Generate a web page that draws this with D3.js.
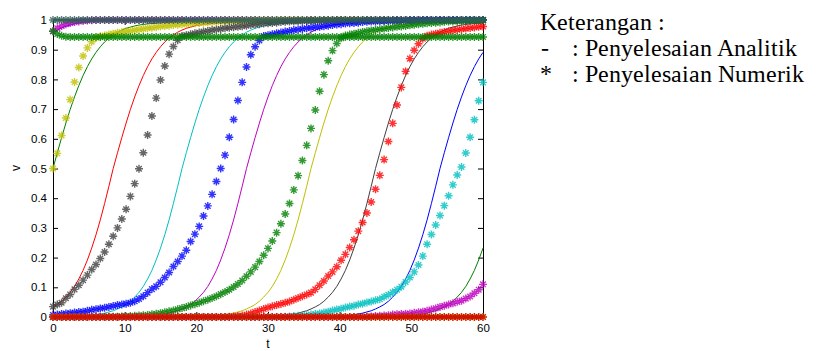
<!DOCTYPE html>
<html>
<head>
<meta charset="utf-8">
<script src="https://cdn.jsdelivr.net/npm/d3@7"></script>
<style>
  body { margin: 0; background: #ffffff; }
  svg { display: block; }
  @font-face { font-family: "NoteSerif"; src: local("Liberation Serif"), local("LiberationSerif-Regular"), local("Liberation Serif Regular"); }
</style>
</head>
<body>
<svg id="chart" width="835" height="351"></svg>
<script>
// Time grid shared by every series (step 0.6)
const tValues = [
0,0.6,1.2,1.8,2.4,3,3.6,4.2,4.8,5.4,
6,6.6,7.2,7.8,8.4,9,9.6,10.2,10.8,11.4,
12,12.6,13.2,13.8,14.4,15,15.6,16.2,16.8,17.4,
18,18.6,19.2,19.8,20.4,21,21.6,22.2,22.8,23.4,
24,24.6,25.2,25.8,26.4,27,27.6,28.2,28.8,29.4,
30,30.6,31.2,31.8,32.4,33,33.6,34.2,34.8,35.4,
36,36.6,37.2,37.8,38.4,39,39.6,40.2,40.8,41.4,
42,42.6,43.2,43.8,44.4,45,45.6,46.2,46.8,47.4,
48,48.6,49.2,49.8,50.4,51,51.6,52.2,52.8,53.4,
54,54.6,55.2,55.8,56.4,57,57.6,58.2,58.8,59.4,
60];

const xTicks = [0, 10, 20, 30, 40, 50, 60];
const yTicks = [0, 0.1, 0.2, 0.3, 0.4, 0.5, 0.6, 0.7, 0.8, 0.9, 1];
const yTickLabels = ['0','0.1','0.2','0.3','0.4','0.5','0.6','0.7','0.8','0.9','1'];

// ---- analytic solutions (solid lines) ----
const steadyHigh = [
1,1,1,1,1,1,1,1,1,1, 1,1,1,1,1,1,1,1,1,1, 1,1,1,1,1,1,1,1,1,1,
1,1,1,1,1,1,1,1,1,1, 1,1,1,1,1,1,1,1,1,1, 1,1,1,1,1,1,1,1,1,1,
1,1,1,1,1,1,1,1,1,1, 1,1,1,1,1,1,1,1,1,1, 1,1,1,1,1,1,1,1,1,1,
1,1,1,1,1,1,1,1,1,1, 1];

const steadyLow = [
0,0,0,0,0,0,0,0,0,0, 0,0,0,0,0,0,0,0,0,0, 0,0,0,0,0,0,0,0,0,0,
0,0,0,0,0,0,0,0,0,0, 0,0,0,0,0,0,0,0,0,0, 0,0,0,0,0,0,0,0,0,0,
0,0,0,0,0,0,0,0,0,0, 0,0,0,0,0,0,0,0,0,0, 0,0,0,0,0,0,0,0,0,0,
0,0,0,0,0,0,0,0,0,0, 0];

const analyticBlueTop = [
0.958,0.966,0.973,0.979,0.983,0.987,0.990,0.992,0.994,0.995,
0.996,0.997,0.998,0.998,0.999,0.999,1,1,1,1,
1,1,1,1,1,1,1,1,1,1, 1,1,1,1,1,1,1,1,1,1, 1,1,1,1,1,1,1,1,1,1,
1,1,1,1,1,1,1,1,1,1, 1,1,1,1,1,1,1,1,1,1, 1,1,1,1,1,1,1,1,1,1,
1,1,1,1,1,1,1,1,1,1, 1,1,1,1,1,1,1,1,1,1, 1];

const analyticGreen = [
0.5,0.553,0.604,0.653,0.699,0.741,0.779,0.813,0.843,0.869,
0.891,0.910,0.926,0.939,0.950,0.959,0.966,0.972,0.976,0.980,
0.983,0.985,0.987,0.988,0.989,0.990,0.991,0.992,0.993,0.994,
0.995,0.995,0.996,0.996,0.997,0.997,0.998,0.998,0.998,0.999,
0.999,0.999,0.999,1,1,1,1,1,1,1,
1,1,1,1,1,1,1,1,1,1, 1,1,1,1,1,1,1,1,1,1, 1,1,1,1,1,1,1,1,1,1,
1,1,1,1,1,1,1,1,1,1, 1,1,1,1,1,1,1,1,1,1, 1];

const analyticRed = [
0.034,0.042,0.053,0.067,0.083,0.103,0.128,0.157,0.192,0.232,
0.277,0.327,0.382,0.440,0.5,0.553,0.604,0.653,0.699,0.741,
0.779,0.813,0.843,0.869,0.891,0.910,0.926,0.939,0.950,0.959,
0.966,0.972,0.976,0.980,0.983,0.985,0.987,0.988,0.989,0.990,
0.991,0.992,0.993,0.994,0.995,0.995,0.996,0.996,0.997,0.997,
0.998,0.998,0.998,0.999,0.999,0.999,0.999,1,1,1,
1,1,1,1,1,1,1,1,1,1, 1,1,1,1,1,1,1,1,1,1, 1,1,1,1,1,1,1,1,1,1,
1,1,1,1,1,1,1,1,1,1, 1];

const analyticCyan = [
0.001,0.001,0.001,0.002,0.002,0.003,0.003,0.004,0.005,0.006,
0.008,0.010,0.013,0.017,0.021,0.027,0.034,0.042,0.053,0.067,
0.083,0.103,0.128,0.157,0.192,0.232,0.277,0.327,0.382,0.440,
0.5,0.553,0.604,0.653,0.699,0.741,0.779,0.813,0.843,0.869,
0.891,0.910,0.926,0.939,0.950,0.959,0.966,0.972,0.976,0.980,
0.983,0.985,0.987,0.988,0.989,0.990,0.991,0.992,0.993,0.994,
0.995,0.995,0.996,0.996,0.997,0.997,0.998,0.998,0.998,0.999,
0.999,0.999,0.999,1,1,1,1,1,1,1,
1,1,1,1,1,1,1,1,1,1, 1,1,1,1,1,1,1,1,1,1, 1];

const analyticMagenta = [
0,0,0,0,0,0,0,0,0,0,
0,0,0,0,0,0.001,0.001,0.001,0.002,0.002,
0.003,0.003,0.004,0.005,0.006,0.008,0.010,0.013,0.017,0.021,
0.027,0.034,0.042,0.053,0.067,0.083,0.103,0.128,0.157,0.192,
0.232,0.277,0.327,0.382,0.440,0.5,0.553,0.604,0.653,0.699,
0.741,0.779,0.813,0.843,0.869,0.891,0.910,0.926,0.939,0.950,
0.959,0.966,0.972,0.976,0.980,0.983,0.985,0.987,0.988,0.989,
0.990,0.991,0.992,0.993,0.994,0.995,0.995,0.996,0.996,0.997,
0.997,0.998,0.998,0.998,0.999,0.999,0.999,0.999,1,1,
1,1,1,1,1,1,1,1,1,1, 1];

const analyticYellow = [
0,0,0,0,0,0,0,0,0,0, 0,0,0,0,0,0,0,0,0,0, 0,0,0,0,0,0,0,0,0,0,
0.001,0.001,0.001,0.002,0.002,0.003,0.003,0.004,0.005,0.006,
0.008,0.010,0.013,0.017,0.021,0.027,0.034,0.042,0.053,0.067,
0.083,0.103,0.128,0.157,0.192,0.232,0.277,0.327,0.382,0.440,
0.5,0.553,0.604,0.653,0.699,0.741,0.779,0.813,0.843,0.869,
0.891,0.910,0.926,0.939,0.950,0.959,0.966,0.972,0.976,0.980,
0.983,0.985,0.987,0.988,0.989,0.990,0.991,0.992,0.993,0.994,
0.995,0.995,0.996,0.996,0.997,0.997,0.998,0.998,0.998,0.999,
0.999];

const analyticDark = [
0,0,0,0,0,0,0,0,0,0, 0,0,0,0,0,0,0,0,0,0, 0,0,0,0,0,0,0,0,0,0,
0,0,0,0,0,0,0,0,0,0,
0,0,0,0,0,0.001,0.001,0.001,0.002,0.002,
0.003,0.003,0.004,0.005,0.006,0.008,0.010,0.013,0.017,0.021,
0.027,0.034,0.042,0.053,0.067,0.083,0.103,0.128,0.157,0.192,
0.232,0.277,0.327,0.382,0.440,0.5,0.553,0.604,0.653,0.699,
0.741,0.779,0.813,0.843,0.869,0.891,0.910,0.926,0.939,0.950,
0.959,0.966,0.972,0.976,0.980,0.983,0.985,0.987,0.988,0.989,
0.990];

const analyticBlue = [
0,0,0,0,0,0,0,0,0,0, 0,0,0,0,0,0,0,0,0,0, 0,0,0,0,0,0,0,0,0,0,
0,0,0,0,0,0,0,0,0,0, 0,0,0,0,0,0,0,0,0,0, 0,0,0,0,0,0,0,0,0,0,
0.001,0.001,0.001,0.002,0.002,0.003,0.003,0.004,0.005,0.006,
0.008,0.010,0.013,0.017,0.021,0.027,0.034,0.042,0.053,0.067,
0.083,0.103,0.128,0.157,0.192,0.232,0.277,0.327,0.382,0.440,
0.5,0.553,0.604,0.653,0.699,0.741,0.779,0.813,0.843,0.869,
0.891];

const analyticGreenLate = [
0,0,0,0,0,0,0,0,0,0, 0,0,0,0,0,0,0,0,0,0, 0,0,0,0,0,0,0,0,0,0,
0,0,0,0,0,0,0,0,0,0, 0,0,0,0,0,0,0,0,0,0, 0,0,0,0,0,0,0,0,0,0,
0,0,0,0,0,0,0,0,0,0,
0,0,0,0,0,0.001,0.001,0.001,0.002,0.002,
0.003,0.003,0.004,0.005,0.006,0.008,0.010,0.013,0.017,0.021,
0.027,0.034,0.042,0.053,0.067,0.083,0.103,0.128,0.157,0.192,
0.232];

// ---- numeric solutions (asterisk markers) ----
const numMagentaTop = [
0.962,0.972,0.980,0.986,0.990,0.993,0.995,0.997,0.998,0.999,
1,1,1,1,1,1,1,1,1,1, 1,1,1,1,1,1,1,1,1,1, 1,1,1,1,1,1,1,1,1,1,
1,1,1,1,1,1,1,1,1,1, 1,1,1,1,1,1,1,1,1,1, 1,1,1,1,1,1,1,1,1,1,
1,1,1,1,1,1,1,1,1,1, 1,1,1,1,1,1,1,1,1,1, 1,1,1,1,1,1,1,1,1,1, 1];

const numYellow = [
0.5,0.551,0.611,0.670,0.732,0.791,0.840,0.879,0.906,0.927,
0.940,0.945,0.948,0.951,0.954,0.957,0.959,0.962,0.964,0.966,
0.968,0.970,0.972,0.974,0.976,0.978,0.980,0.981,0.983,0.984,
0.986,0.987,0.988,0.989,0.990,0.991,0.992,0.993,0.994,0.995,
0.995,0.996,0.996,0.997,0.997,0.998,0.998,0.998,0.999,0.999,
0.999,1,1,1,1,1,1,1,1,1,
1,1,1,1,1,1,1,1,1,1, 1,1,1,1,1,1,1,1,1,1, 1,1,1,1,1,1,1,1,1,1,
1,1,1,1,1,1,1,1,1,1, 1];

const numDark = [
0.035,0.042,0.048,0.063,0.076,0.093,0.107,0.124,0.141,0.160,
0.177,0.197,0.219,0.245,0.272,0.300,0.330,0.363,0.406,0.449,
0.499,0.553,0.613,0.677,0.737,0.798,0.845,0.885,0.911,0.932,
0.946,0.949,0.952,0.955,0.958,0.961,0.963,0.966,0.968,0.970,
0.972,0.974,0.976,0.977,0.979,0.981,0.983,0.985,0.986,0.988,
0.989,0.990,0.991,0.993,0.994,0.995,0.995,0.996,0.997,0.997,
0.998,0.998,0.998,0.999,0.999,0.999,1,1,1,1,
1,1,1,1,1,1,1,1,1,1, 1,1,1,1,1,1,1,1,1,1, 1,1,1,1,1,1,1,1,1,1, 1];

const numBlue = [
0.007,0.008,0.010,0.012,0.013,0.015,0.017,0.018,0.021,0.024,
0.026,0.029,0.031,0.034,0.037,0.040,0.042,0.045,0.048,0.053,
0.061,0.070,0.082,0.094,0.103,0.117,0.133,0.150,0.170,0.187,
0.205,0.225,0.254,0.279,0.305,0.340,0.374,0.413,0.456,0.500,
0.545,0.605,0.665,0.729,0.790,0.842,0.883,0.910,0.931,0.946,
0.949,0.952,0.955,0.958,0.961,0.963,0.966,0.968,0.970,0.972,
0.974,0.976,0.977,0.979,0.981,0.983,0.985,0.986,0.988,0.989,
0.990,0.991,0.993,0.994,0.995,0.995,0.996,0.997,0.997,0.998,
0.998,0.998,0.999,0.999,0.999,1,1,1,1,1,
1,1,1,1,1,1,1,1,1,1, 1];

const numGreen = [
0,0,0,0,0,0,0,0,0,0,
0,0,0,0.001,0.001,0.001,0.002,0.002,0.003,0.004,
0.005,0.006,0.007,0.009,0.011,0.013,0.016,0.019,0.022,0.026,
0.030,0.034,0.039,0.043,0.048,0.053,0.058,0.064,0.070,0.077,
0.084,0.092,0.101,0.111,0.123,0.137,0.152,0.168,0.187,0.208,
0.231,0.256,0.284,0.314,0.347,0.382,0.428,0.476,0.527,0.578,
0.635,0.697,0.760,0.816,0.863,0.897,0.921,0.939,0.948,0.951,
0.954,0.957,0.960,0.962,0.965,0.967,0.969,0.971,0.973,0.975,
0.977,0.978,0.980,0.982,0.984,0.986,0.987,0.989,0.990,0.991,
0.992,0.994,0.995,0.995,0.996,0.997,0.997,0.998,0.998,0.998,
0.999];

const numRed = [
0,0,0,0,0,0,0,0,0,0, 0,0,0,0,0,0,0,0,0,0, 0,0,0,0,0,0,0,0,0,0,
0,0,0,0,0,0,0,0,0,0,
0,0.001,0.002,0.003,0.005,0.008,0.012,0.017,0.022,0.027,
0.032,0.036,0.040,0.044,0.048,0.052,0.058,0.064,0.070,0.076,
0.082,0.093,0.107,0.121,0.138,0.152,0.169,0.191,0.211,0.234,
0.260,0.289,0.318,0.350,0.387,0.430,0.477,0.530,0.591,0.652,
0.714,0.773,0.827,0.870,0.898,0.920,0.937,0.947,0.951,0.954,
0.957,0.960,0.962,0.965,0.967,0.969,0.971,0.973,0.975,0.977,
0.978];

const numCyan = [
0,0,0,0,0,0,0,0,0,0, 0,0,0,0,0,0,0,0,0,0, 0,0,0,0,0,0,0,0,0,0,
0,0,0,0,0,0,0,0,0,0, 0,0,0,0,0,0,0,0,0,0,
0,0,0,0,0.001,0.002,0.003,0.004,0.005,0.006,
0.008,0.010,0.012,0.015,0.018,0.022,0.025,0.028,0.032,0.035,
0.038,0.042,0.045,0.049,0.052,0.056,0.060,0.068,0.075,0.083,
0.092,0.102,0.118,0.133,0.152,0.175,0.205,0.245,0.278,0.310,
0.342,0.375,0.408,0.445,0.478,0.505,0.552,0.605,0.664,0.728,
0.790];

const numMagentaLate = [
0,0,0,0,0,0,0,0,0,0, 0,0,0,0,0,0,0,0,0,0, 0,0,0,0,0,0,0,0,0,0,
0,0,0,0,0,0,0,0,0,0, 0,0,0,0,0,0,0,0,0,0, 0,0,0,0,0,0,0,0,0,0,
0,0,0,0,0,0,0,0,0,0,
0,0,0,0.001,0.002,0.003,0.004,0.005,0.006,0.008,
0.009,0.010,0.011,0.012,0.014,0.016,0.018,0.021,0.025,0.029,
0.034,0.038,0.042,0.046,0.051,0.055,0.062,0.069,0.080,0.092,
0.110];

const numGreenPlateau = [
0.962,0.953,0.947,0.944,0.943,0.943,0.943,0.943,0.943,0.943,
0.943,0.943,0.943,0.943,0.943,0.943,0.943,0.943,0.943,0.943,
0.943,0.943,0.943,0.943,0.943,0.943,0.943,0.943,0.943,0.943,
0.943,0.943,0.943,0.943,0.943,0.943,0.943,0.943,0.943,0.943,
0.943,0.943,0.943,0.943,0.943,0.943,0.943,0.943,0.943,0.943,
0.943,0.943,0.943,0.943,0.943,0.943,0.943,0.943,0.943,0.943,
0.943,0.943,0.943,0.943,0.943,0.943,0.943,0.943,0.943,0.943,
0.943,0.943,0.943,0.943,0.943,0.943,0.943,0.943,0.943,0.943,
0.943,0.943,0.943,0.943,0.943,0.943,0.943,0.943,0.943,0.943,
0.943,0.943,0.943,0.943,0.943,0.943,0.943,0.943,0.943,0.943,
0.943];

const noteLines = [
  { x: 540, y: 30, text: 'Keterangan :' },
  { x: 541, y: 56, text: '-' },
  { x: 572, y: 56, text: ': Penyelesaian Analitik' },
  { x: 540, y: 82, text: '*' },
  { x: 572, y: 82, text: ': Penyelesaian Numerik' }
];

// ---- drawing ----
const svg = d3.select('#chart');
const x = d3.scaleLinear().domain([0, 60]).range([53, 483]);
const y = d3.scaleLinear().domain([0, 1]).range([317, 20]);

// notes beside the chart (drawn first, straight onto the svg)
noteLines.forEach(d => {
  svg.append('text')
    .attr('x', d.x)
    .attr('y', d.y)
    .style('font-family', 'NoteSerif')
    .style('font-size', '24px')
    .text(d.text);
});

// axes box, ticks pointing inward
function styleAxis(g) {
  g.attr('font-family', null).attr('font-size', null);
  g.selectAll('path.domain').attr('stroke', '#000');
  g.selectAll('.tick line').attr('stroke', '#000');
  g.selectAll('.tick text')
    .attr('fill', '#000')
    .style('font-family', 'Liberation Sans')
    .style('font-size', '11.5px');
}
const axesLayer = svg.append('g');
axesLayer.append('g')
  .attr('transform', `translate(0,${y(0)})`)
  .call(d3.axisBottom(x).tickValues(xTicks).tickSizeInner(-5).tickSizeOuter(0).tickPadding(7))
  .call(styleAxis);
axesLayer.append('g')
  .attr('transform', `translate(0,${y(1)})`)
  .call(d3.axisTop(x).tickValues(xTicks).tickSizeInner(-5).tickSizeOuter(0).tickFormat(''))
  .call(styleAxis);
axesLayer.append('g')
  .attr('transform', `translate(${x(0)},0)`)
  .call(d3.axisLeft(y).tickValues(yTicks).tickFormat((d, i) => yTickLabels[i])
        .tickSizeInner(-5).tickSizeOuter(0).tickPadding(6))
  .call(styleAxis);
axesLayer.append('g')
  .attr('transform', `translate(${x(60)},0)`)
  .call(d3.axisRight(y).tickValues(yTicks).tickSizeInner(-5).tickSizeOuter(0).tickFormat(''))
  .call(styleAxis);

// axis titles
svg.append('text')
  .style('font-family', 'Liberation Sans').style('font-size', '12px')
  .attr('x', 268).attr('y', 348)
  .attr('text-anchor', 'middle')
  .text('t');
svg.append('text')
  .style('font-family', 'Liberation Sans').style('font-size', '12px')
  .attr('transform', 'translate(20,168) rotate(-90)')
  .attr('text-anchor', 'middle')
  .text('v');

// solid lines
const lineGen = d3.line()
  .x((v, i) => x(tValues[i]))
  .y(v => y(v));

const lineSeries = [
  { values: steadyLow, color: '#8a6a48', width: 3.5 },
  { values: steadyHigh, color: '#8a6a48', width: 2 },
  { values: analyticBlueTop, color: '#0000ff', width: 1 },
  { values: analyticGreen, color: '#008000', width: 1 },
  { values: analyticRed, color: '#ff0000', width: 1 },
  { values: analyticCyan, color: '#00bfbf', width: 1 },
  { values: analyticMagenta, color: '#bf00bf', width: 1 },
  { values: analyticYellow, color: '#bfbf00', width: 1 },
  { values: analyticDark, color: '#404040', width: 1 },
  { values: analyticBlue, color: '#0000ff', width: 1 },
  { values: analyticGreenLate, color: '#008000', width: 1 }
];

const linesLayer = svg.append('g');
lineSeries.forEach(s => {
  linesLayer.append('path')
    .datum(s.values)
    .attr('d', lineGen)
    .attr('fill', 'none')
    .attr('stroke', s.color)
    .attr('stroke-width', s.width)
    .attr('stroke-linejoin', 'round');
});

// asterisk markers
const starPath = 'M-4,0H4M0,-4V4M-2.8,-2.8L2.8,2.8M-2.8,2.8L2.8,-2.8';
const markerSeries = [
  { values: numMagentaTop, color: '#bf00bf' },
  { values: numYellow, color: '#bfbf00' },
  { values: numDark, color: '#404040' },
  { values: numBlue, color: '#0000ff' },
  { values: numGreen, color: '#008000' },
  { values: numRed, color: '#ff0000' },
  { values: numCyan, color: '#00bfbf' },
  { values: numMagentaLate, color: '#bf00bf' },
  { values: steadyLow, color: '#bfbf00' },
  { values: numGreenPlateau, color: '#008000' },
  { values: steadyHigh, color: '#2f5f58' },
  { values: steadyLow, color: '#d00000' }
];

const markersLayer = svg.append('g');
markerSeries.forEach(s => {
  markersLayer.append('g')
    .selectAll('path')
    .data(s.values)
    .join('path')
    .attr('d', starPath)
    .attr('transform', (v, i) => `translate(${x(tValues[i])},${y(v)})`)
    .attr('fill', 'none')
    .attr('stroke', s.color)
    .attr('stroke-width', 1.4)
    .attr('stroke-opacity', 0.8);
});
</script>
</body>
</html>
